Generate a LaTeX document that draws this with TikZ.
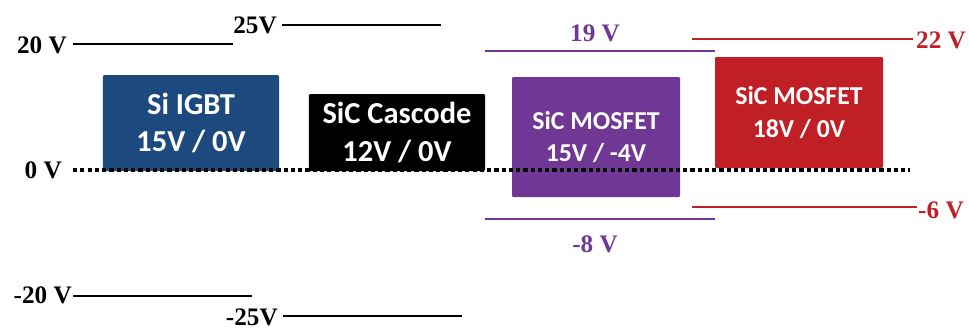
\documentclass[tikz,border=0pt]{standalone}
\usepackage{fontspec}
\setmainfont{Liberation Serif}
\newfontfamily\boxfont{Carlito}
\definecolor{igbtblue}{RGB}{29,74,126}
\definecolor{mospurple}{RGB}{112,56,148}
\definecolor{mosred}{RGB}{192,31,38}

\tikzset{
  level/.style={line width=2pt},
  vlabel/.style={inner sep=0pt, font=\bfseries\fontsize{21.5}{26}\selectfont},
  devbox/.style={text=white, align=center, inner sep=0pt, rounded corners=1pt},
  bigtext/.style={font=\boxfont\bfseries\fontsize{26}{32}\selectfont},
  smalltext/.style={font=\boxfont\bfseries\fontsize{22}{28}\selectfont},
}

\begin{document}
\begin{tikzpicture}[x=0.03cm, y=-0.03cm]
    \useasboundingbox (0,0) rectangle (969,330);

    % device boxes
    \node[devbox, bigtext, fill=igbtblue, minimum width=5.28cm, minimum height=2.88cm] (igbt) at (191,123) {Si IGBT\\15V / 0V};
    \node[devbox, bigtext, fill=black, minimum width=5.28cm, minimum height=2.31cm] (cascode) at (397,132.5) {SiC Cascode\\12V / 0V};
    \node[devbox, smalltext, fill=mospurple, minimum width=5.04cm, minimum height=3.6cm] (mosa) at (596,137) {SiC MOSFET\\15V / -4V};
    \node[devbox, smalltext, fill=mosred, minimum width=5.04cm, minimum height=3.33cm] (mosb) at (799,112.5) {SiC MOSFET\\18V / 0V};

    % 0 V line
    \path coordinate (z0) at (73,170);
    \path coordinate (z1) at (910,170);
    \draw [line width=2.6pt, dash pattern=on 3.6pt off 2.6pt] (z0)--(z1);
    \node[vlabel, anchor=east] (l0) at (62,170) {0 V};

    % Si IGBT and cascode levels
    \path coordinate (a20) at (73,44) coordinate (b20) at (233,44);
    \draw [level] (a20)--(b20);
    \node[vlabel, anchor=east] (l20) at (67,45) {20 V};
    \path coordinate (a25) at (282,25) coordinate (b25) at (441,25);
    \draw [level] (a25)--(b25);
    \node[vlabel, anchor=east] (l25) at (277,25) {25V};
    \path coordinate (am20) at (73,296) coordinate (bm20) at (252,296);
    \draw [level] (am20)--(bm20);
    \node[vlabel, anchor=east] (lm20) at (72,295) {-20 V};
    \path coordinate (am25) at (283,316) coordinate (bm25) at (462,316);
    \draw [level] (am25)--(bm25);
    \node[vlabel, anchor=east] (lm25) at (278,317.5) {-25V};

    % purple levels
    \path coordinate (a19) at (485,51) coordinate (b19) at (715,51);
    \draw [level, mospurple] (a19)--(b19);
    \node[vlabel, mospurple] (l19) at (595,33) {19 V};
    \path coordinate (am8) at (485,219) coordinate (bm8) at (715,219);
    \draw [level, mospurple] (am8)--(bm8);
    \node[vlabel, mospurple] (lm8) at (595,244) {-8 V};

    % red levels
    \path coordinate (a22) at (692,39) coordinate (b22) at (913,39);
    \draw [level, mosred] (a22)--(b22);
    \node[vlabel, mosred, anchor=west] (l22) at (916,40) {22 V};
    \path coordinate (am6) at (692,207) coordinate (bm6) at (917,207);
    \draw [level, mosred] (am6)--(bm6);
    \node[vlabel, mosred, anchor=west] (lm6) at (918,210) {-6 V};
\end{tikzpicture}
\end{document}
